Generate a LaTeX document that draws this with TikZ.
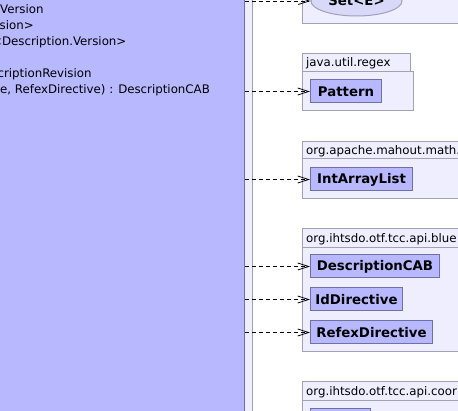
\documentclass[tikz,border=0pt]{standalone}
\usepackage{fontspec}
\setmainfont{DejaVu Sans}
\usetikzlibrary{arrows.meta,shapes.geometric}
\definecolor{clsfill}{RGB}{184,184,255}
\definecolor{clsline}{RGB}{112,112,168}
\definecolor{pkgfill}{RGB}{238,238,255}
\definecolor{pkgline}{RGB}{160,160,184}
\definecolor{ellfill}{RGB}{216,216,248}
\begin{document}
\begin{tikzpicture}[x=1pt,y=-1pt,
  pkgbox/.style={draw=pkgline,fill=pkgfill,line width=1pt},
  pkglabel/.style={anchor=base west,inner sep=0pt,font=\fontsize{11.8}{13}\selectfont},
  membertext/.style={anchor=base west,inner sep=0pt,font=\fontsize{11.8}{13}\selectfont},
  clsbox/.style={draw=clsline,fill=clsfill,line width=1pt,minimum height=23pt,inner sep=0pt,
    anchor=west,font=\fontsize{13.3}{15}\selectfont\bfseries},
  bigcls/.style={draw=clsline,fill=clsfill,line width=1pt,inner sep=0pt},
  dep/.style={draw=black,line width=0.8pt,dash pattern=on 4pt off 3pt,
    -{Straight Barb[length=11pt,width=7pt]}}
]
\useasboundingbox (0,0) rectangle (458,411);
\clip (0,0) rectangle (458,411);
\fill[white] (0,0) rectangle (458,411);
% left package and big class
\draw[pkgbox] (-20,-20) rectangle (252,430);
\node[bigcls,minimum width=280pt,minimum height=460pt,anchor=north east] (main) at (244.5,-20) {};
\node[membertext] (m1) at (0,14) {Version};
\node[membertext] (m2) at (-0.5,30) {sion>};
\node[membertext] (m3) at (-8,46) {<Description.Version>};
\node[membertext] (m5) at (-8.8,78) {scriptionRevision};
\node[membertext] (m6) at (0,94) {e, RefexDirective) : DescriptionCAB};
% package 1
\draw[pkgbox] (302,-30) rectangle (480,24);
\node[ellipse,draw=pkgline,fill=ellfill,line width=1pt,minimum width=91pt,minimum height=30pt,
  inner sep=0pt,font=\fontsize{13.3}{15}\selectfont\bfseries] (set) at (356.5,1) {Set<E>};
% package 2
\draw[pkgbox] (302,54) rectangle (410,72);
\draw[pkgbox] (302,72) rectangle (413,111);
\node[pkglabel] (p2) at (306,67) {java.util.regex};
\node[clsbox,minimum width=71pt] (pattern) at (310,91.5) {Pattern};
% package 3
\draw[pkgbox] (302,142) rectangle (480,159);
\draw[pkgbox] (302,159) rectangle (480,199);
\node[pkglabel] (p3) at (306,155) {org.apache.mahout.math.};
\node[clsbox,minimum width=102pt] (intarr) at (310,179.5) {IntArrayList};
% package 4
\draw[pkgbox] (302,229) rectangle (480,248);
\draw[pkgbox] (302,248) rectangle (480,352);
\node[pkglabel] (p4) at (306,243) {org.ihtsdo.otf.tcc.api.blue};
\node[clsbox,minimum width=129pt] (desccab) at (310,266.5) {DescriptionCAB};
\node[clsbox,minimum width=92pt] (iddir) at (310,299.5) {IdDirective};
\node[clsbox,minimum width=122pt] (refex) at (310,332.5) {RefexDirective};
% package 5
\draw[pkgbox] (302,382) rectangle (480,401);
\draw[pkgbox] (302,401) rectangle (480,430);
\node[pkglabel] (p5) at (306,396) {org.ihtsdo.otf.tcc.api.coor};
\node[clsbox,minimum width=60pt] (coorcls) at (310,420) {};
% dependencies
\draw[dep] (main.east |- set.west) -- (set.west);
\draw[dep] (main.east |- pattern.west) -- (pattern.west);
\draw[dep] (main.east |- intarr.west) -- (intarr.west);
\draw[dep] (main.east |- desccab.west) -- (desccab.west);
\draw[dep] (main.east |- iddir.west) -- (iddir.west);
\draw[dep] (main.east |- refex.west) -- (refex.west);
\end{tikzpicture}
\end{document}
